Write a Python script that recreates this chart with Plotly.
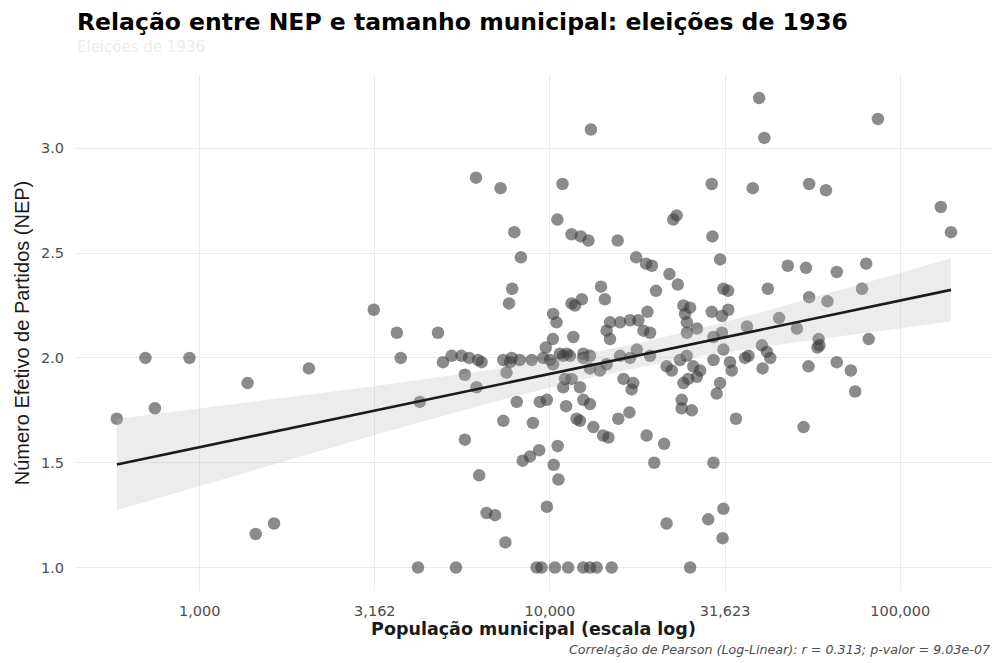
import numpy as np
import plotly.graph_objects as go

title_text = "Relação entre NEP e tamanho municipal: eleições de 1936"
subtitle_text = "Eleições de 1936"
x_title = "População municipal (escala log)"
y_title = "Número Efetivo de Partidos (NEP)"
caption_text = "Correlação de Pearson (Log-Linear): r = 0.313; p-valor = 9.03e-07"

x_tick_vals = [1000, 3162, 10000, 31623, 100000]
x_tick_text = ["1,000", "3,162", "10,000", "31,623", "100,000"]
y_tick_vals = [1.0, 1.5, 2.0, 2.5, 3.0]
y_tick_text = ["1.0", "1.5", "2.0", "2.5", "3.0"]

populacao = [
    580, 700, 745, 935, 1370, 1445, 1630, 2050, 3140, 3655, 3750, 4250, 4200, 4790, 4950,
    5390, 5715, 6170, 6380, 7515, 7690, 8040, 7360, 9360, 9800, 8940, 5715, 8360, 8770, 9310,
    10520, 10250, 10570, 6280, 6590, 6970, 9800, 7460, 9160, 9460, 10330, 6150, 7225, 7910, 8260,
    7800, 7640, 5240, 5590, 5880, 6230, 7360, 7780, 8200, 8870, 9570, 10210, 10860, 10500, 10210,
    10440, 10190, 9730, 28970, 11530, 12240, 12880, 15610, 22480, 23000, 29090, 30600, 17620, 18800, 19550,
    21930, 23180, 20080, 31270, 32260, 13990, 14350, 11530, 12330, 11790, 11660, 14840, 15850, 16930, 17880,
    18980, 14510, 14840, 18490, 19310, 24040, 25120, 24300, 24600, 26270, 24600, 28970, 30970, 32290, 30970,
    10680, 11170, 12450, 17700, 31270, 29300, 10910, 11400, 10000, 12450, 13890, 13010, 11040, 11530, 10910,
    12180, 11120, 12450, 13010, 11910, 12180, 13300, 14180, 14690, 15670, 16860, 16220, 17290, 17100, 18880,
    21180, 19850, 29300, 21530, 28300, 31270, 31100, 11270, 12450, 13010, 13590, 15000, 25120, 19310, 21530,
    22270, 23510, 24560, 25650, 26830, 26270, 24040, 24820, 29300, 32660, 33040, 30600, 29930, 23770, 23770,
    25410, 33960, 14510, 13010, 15850, 16930, 13090, 39550, 40930, 86360, 37930, 54950, 61380, 130600, 139600,
    47750, 53830, 65880, 79960, 41880, 54950, 61970, 77800, 45080, 36500, 50700, 58480, 58800, 58030, 81280,
    40270, 41610, 42560, 36870, 36060, 40460, 54700, 65880, 72270, 74350, 52970,
]
nep = [
    1.71, 2.00, 1.76, 2.00, 1.88, 1.16, 1.21, 1.95, 2.23, 2.12, 2.00, 1.79, 1.00, 2.12, 1.98,
    1.00, 1.92, 1.86, 1.98, 1.93, 1.98, 1.79, 1.70, 1.79, 1.80, 1.69, 1.61, 1.51, 1.53, 1.56,
    1.58, 1.49, 1.42, 1.44, 1.26, 1.25, 1.29, 1.12, 1.00, 1.00, 1.00, 2.86, 2.81, 2.60, 2.48,
    2.33, 2.26, 2.01, 2.01, 2.00, 1.99, 1.99, 2.00, 1.99, 1.99, 2.00, 1.97, 2.83, 2.66, 2.21,
    2.17, 2.09, 2.05, 2.83, 2.59, 2.58, 2.56, 2.56, 2.66, 2.68, 2.58, 2.47, 2.48, 2.45, 2.44,
    2.40, 2.35, 2.32, 2.33, 2.32, 2.34, 2.28, 2.26, 2.28, 2.25, 2.10, 2.17, 2.17, 2.18, 2.18,
    2.22, 2.13, 2.09, 2.13, 2.12, 2.25, 2.24, 2.21, 2.17, 2.14, 2.12, 2.22, 2.20, 2.23, 2.12,
    2.02, 2.02, 2.02, 2.04, 2.04, 2.10, 2.01, 2.01, 1.99, 2.00, 1.94, 1.95, 1.90, 1.90, 1.86,
    1.86, 1.77, 1.80, 1.78, 1.71, 1.70, 1.67, 1.63, 1.62, 1.71, 1.74, 1.90, 1.88, 1.85, 1.63,
    1.59, 1.50, 1.50, 1.21, 1.23, 1.28, 1.14, 1.00, 1.00, 1.00, 1.00, 1.00, 1.00, 2.01, 1.96,
    1.94, 1.99, 2.01, 1.96, 1.94, 1.91, 1.88, 1.90, 1.99, 1.98, 1.94, 1.88, 1.83, 1.80, 1.76,
    1.75, 1.71, 1.97, 2.01, 2.01, 2.00, 3.09, 3.24, 3.05, 3.14, 2.81, 2.83, 2.80, 2.72, 2.60,
    2.44, 2.43, 2.41, 2.45, 2.33, 2.29, 2.27, 2.33, 2.19, 2.15, 2.14, 2.09, 2.06, 2.05, 2.09,
    2.06, 2.03, 2.00, 2.01, 2.00, 1.95, 1.96, 1.98, 1.94, 1.84, 1.67,
]

# linear model NEP ~ log10(pop) with 95% confidence band (like geom_smooth(method="lm"))
lx = np.log10(np.array(populacao, dtype=float))
ly = np.array(nep, dtype=float)
n = len(lx)
b1, b0 = np.polyfit(lx, ly, 1)
resid = ly - (b0 + b1 * lx)
s = np.sqrt(np.sum(resid ** 2) / (n - 2))
sxx = np.sum((lx - lx.mean()) ** 2)
t_crit = 1.972
grid = np.linspace(lx.min(), lx.max(), 80)
fit = b0 + b1 * grid
se = s * np.sqrt(1.0 / n + (grid - lx.mean()) ** 2 / sxx)
lower = fit - t_crit * se
upper = fit + t_crit * se
gx = 10 ** grid

WIDE = "DejaVu Sans, Verdana, sans-serif"
ARIAL = "Liberation Sans, Arial, Helvetica, sans-serif"

fig = go.Figure()
fig.add_trace(go.Scatter(
    x=populacao, y=nep, mode="markers",
    marker=dict(size=12.5, color="rgba(62,62,62,0.6)", line=dict(width=0)),
    hoverinfo="skip", showlegend=False,
))
fig.add_trace(go.Scatter(x=gx, y=lower, mode="lines", line=dict(width=0),
                         hoverinfo="skip", showlegend=False))
fig.add_trace(go.Scatter(x=gx, y=upper, mode="lines", line=dict(width=0),
                         fill="tonexty", fillcolor="rgba(180,180,180,0.26)",
                         hoverinfo="skip", showlegend=False))
fig.add_trace(go.Scatter(x=gx, y=fit, mode="lines", line=dict(color="#1a1a1a", width=2.6),
                         hoverinfo="skip", showlegend=False))

fig.update_layout(
    width=996, height=663,
    margin=dict(l=75, r=4, t=75, b=72),
    paper_bgcolor="white", plot_bgcolor="white",
    font=dict(family=WIDE, color="#4d4d4d"),
    xaxis=dict(
        type="log", range=[2.644, 5.262],
        tickvals=x_tick_vals, ticktext=x_tick_text,
        showgrid=True, gridcolor="#ebebeb", gridwidth=1.2,
        zeroline=False, showline=False, ticks="",
        ticklabelstandoff=9, automargin=False,
        tickfont=dict(family=WIDE, size=14.5, color="#4d4d4d"),
        title=dict(text="<b>" + x_title + "</b>",
                   font=dict(family=WIDE, size=17.5, color="#1a1a1a"), standoff=4),
    ),
    yaxis=dict(
        range=[0.888, 3.35],
        tickvals=y_tick_vals, ticktext=y_tick_text,
        showgrid=True, gridcolor="#ebebeb", gridwidth=1.2,
        zeroline=False, showline=False, ticks="",
        ticklabelstandoff=10, automargin=False,
        tickfont=dict(family=WIDE, size=14.5, color="#4d4d4d"),
        title=dict(text=y_title, font=dict(family=ARIAL, size=20, color="#1a1a1a"), standoff=5),
    ),
    annotations=[
        dict(text="<b>" + title_text + "</b>", xref="paper", yref="paper", x=0, y=1,
             yshift=53, showarrow=False, xanchor="left", yanchor="middle",
             font=dict(family=WIDE, size=23.5, color="#000000")),
        dict(text=subtitle_text, xref="paper", yref="paper", x=0, y=1, yshift=28,
             showarrow=False, xanchor="left", yanchor="middle",
             font=dict(family=WIDE, size=15, color="#ececec")),
        dict(text="<i>" + caption_text + "</i>", xref="paper", yref="paper", x=1, y=0,
             showarrow=False, xanchor="right", yanchor="middle", yshift=-58,
             font=dict(family=WIDE, size=12.7, color="#4d4d4d")),
    ],
)
fig.write_html("out.html", config={"displayModeBar": False},
               post_script="document.body.style.margin='0px';")
